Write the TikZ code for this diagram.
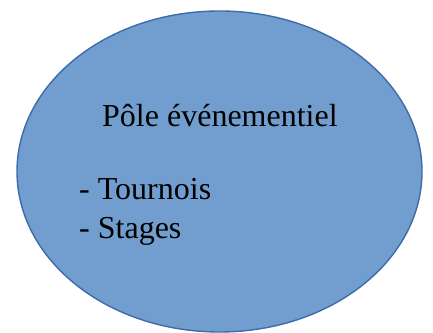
\documentclass[tikz,border=0pt]{standalone}
\usepackage{fontspec}
\setmainfont{Liberation Serif}
\usepackage{tikz}
\usetikzlibrary{shapes.geometric}

\definecolor{poleblue}{RGB}{113,158,206}
\definecolor{poleline}{RGB}{62,108,168}

\begin{document}
\begin{tikzpicture}[x=1pt, y=1pt, font=\fontsize{32}{38}\selectfont]
      \useasboundingbox (0,0) rectangle (433,332);

      \node[draw=poleline, fill=poleblue, line width=1.4pt, ellipse, minimum width=405pt, minimum height=321pt, inner sep=0pt]  (E)  at (219.5, 160.5) {};

      \node[anchor=base west, inner sep=0pt]  (T)  at (102, 205)  {Pôle événementiel};
      \node[anchor=base west, inner sep=0pt]  (L1) at ( 79, 132)  {- Tournois};
      \node[anchor=base west, inner sep=0pt]  (L2) at ( 79,  94)  {- Stages};
    \end{tikzpicture}
\end{document}
